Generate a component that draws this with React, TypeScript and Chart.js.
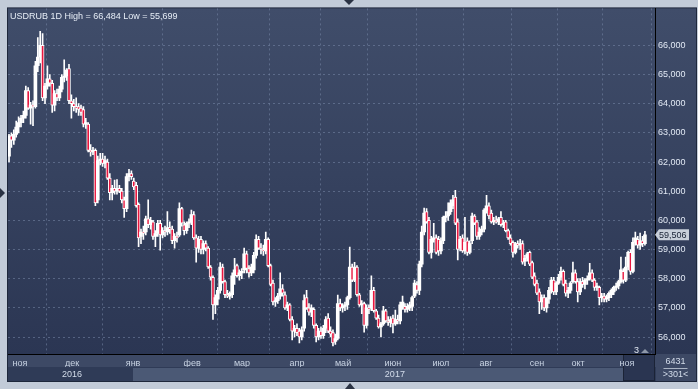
import React, { useEffect, useRef } from 'react';
import { Chart, registerables } from 'chart.js';

Chart.register(...registerables);

const opens = [
  62.2, 62.9, 62.75, 62.95, 63.2, 63.35, 63.5, 63.6, 64.45, 63.85,
  63.95, 63.9, 65.3, 65.6, 66.0, 64.2, 64.6, 64.85, 64.7, 63.95,
  64.35, 64.2, 64.5, 64.9, 64.95, 65.2, 64.1, 64.0, 63.9, 63.9,
  63.85, 63.8, 63.3, 63.3, 62.4, 62.35, 62.4, 60.7, 62.05, 62.1,
  61.95, 62.0, 61.45, 60.95, 61.1, 61.0, 61.1, 61.0, 60.7, 60.4,
  61.5, 61.6, 61.35, 61.2, 60.55, 59.45, 59.6, 59.6, 60.05, 59.85,
  59.95, 59.45, 59.55, 59.9, 59.5, 59.65, 59.6, 59.75, 59.7, 59.3,
  59.45, 59.5, 60.4, 59.85, 59.65, 59.9, 59.95, 60.2, 59.4, 59.05,
  59.35, 59.0, 59.2, 59.05, 58.4, 58.05, 57.1, 57.3, 57.6, 58.4,
  57.9, 57.45, 57.4, 57.45, 58.1, 58.45, 58.1, 58.2, 58.3, 58.85,
  58.35, 58.2, 58.3, 58.8, 59.35, 59.05, 59.0, 58.95, 59.35, 58.45,
  57.85, 57.2, 57.25, 57.4, 57.65, 57.45, 57.0, 57.1, 56.6, 56.2,
  56.3, 56.2, 56.0, 56.3, 57.35, 57.0, 56.85, 56.95, 56.4, 56.0,
  56.2, 56.05, 56.3, 56.65, 56.2, 56.15, 55.85, 55.95, 57.15, 57.0,
  57.05, 57.1, 57.35, 58.4, 57.95, 58.4, 57.45, 57.1, 57.15, 56.4,
  57.0, 57.0, 57.6, 56.9, 56.65, 56.35, 56.45, 56.9, 56.55, 56.5,
  56.65, 56.45, 56.6, 56.55, 57.05, 57.05, 56.95, 57.0, 57.05, 57.4,
  57.8, 57.6, 58.5, 59.6, 60.3, 60.0, 58.9, 59.35, 59.4, 59.35,
  58.95, 59.3, 60.1, 60.15, 60.3, 60.5, 60.8, 59.95, 59.05, 59.4,
  58.95, 59.3, 58.9, 59.3, 60.15, 59.95, 59.45, 59.6, 59.7, 60.35,
  60.5, 60.25, 59.95, 60.0, 59.95, 60.1, 59.85, 59.95, 59.65, 59.4,
  59.25, 58.9, 59.2, 59.15, 59.2, 58.6, 58.7, 58.9, 58.55, 58.1,
  57.85, 57.55, 57.2, 57.35, 57.0, 57.3, 57.6, 57.95, 57.55, 57.85,
  58.05, 58.25, 57.85, 57.5, 57.6, 57.9, 58.2, 57.9, 57.55, 57.9,
  57.8, 57.95, 58.0, 58.2, 57.95, 57.7, 57.7, 57.35, 57.4, 57.3,
  57.35, 57.45, 57.55, 57.7, 57.75, 57.9, 58.25, 57.95, 58.4, 58.9,
  58.25, 59.25, 59.35, 59.15, 59.3, 59.2,
];

const highs = [
  62.95, 63.0, 63.1, 63.4, 63.55, 63.6, 63.75, 64.6, 64.55, 64.05,
  64.1, 65.45, 66.27, 66.484, 66.4, 64.7, 65.3, 65.0, 64.8, 64.45,
  64.5, 64.6, 65.0, 65.5, 65.2, 65.35, 64.3, 64.15, 64.2, 64.0,
  63.95, 63.9, 63.5, 63.35, 62.6, 62.5, 62.45, 62.2, 62.3, 62.3,
  62.2, 62.1, 61.6, 61.2, 61.38, 61.4, 61.2, 61.1, 60.8, 61.6,
  61.75, 61.7, 61.45, 61.3, 60.6, 59.7, 59.8, 60.15, 60.7, 60.1,
  60.0, 59.65, 60.0, 60.0, 59.75, 59.8, 60.3, 59.95, 59.8, 59.55,
  59.6, 60.6, 60.45, 59.95, 59.95, 60.05, 60.35, 60.3, 59.5, 59.45,
  59.45, 59.3, 59.3, 59.1, 58.45, 58.1, 57.45, 57.7, 58.55, 58.5,
  57.95, 57.6, 57.55, 58.2, 58.7, 58.5, 58.3, 58.35, 59.05, 58.95,
  58.45, 58.5, 58.9, 59.5, 59.45, 59.2, 59.15, 59.6, 59.4, 58.5,
  57.95, 57.35, 57.5, 58.2, 57.8, 57.55, 57.2, 57.15, 56.7, 56.4,
  56.45, 56.3, 56.35, 57.45, 57.6, 57.15, 57.1, 57.0, 56.45, 56.3,
  56.35, 56.4, 56.7, 56.8, 56.35, 56.25, 56.1, 57.44, 57.3, 57.15,
  57.2, 57.4, 59.08, 58.5, 58.56, 58.45, 57.5, 57.25, 57.2, 57.1,
  57.1, 58.1, 57.7, 56.95, 56.75, 56.5, 57.05, 56.95, 56.7, 56.7,
  56.75, 56.92, 56.75, 57.2, 57.4, 57.15, 57.15, 57.2, 57.4, 57.95,
  57.9, 58.6, 59.8, 60.42, 60.4, 60.1, 59.45, 59.9, 59.5, 59.45,
  59.4, 60.15, 60.3, 60.6, 60.7, 60.86, 61.03, 60.05, 59.45, 59.5,
  60.1, 59.4, 59.3, 60.25, 60.2, 60.0, 59.75, 59.8, 60.4, 60.86,
  60.6, 60.35, 60.1, 60.15, 60.1, 60.3, 60.0, 60.0, 59.7, 59.5,
  59.3, 59.25, 59.3, 59.35, 59.3, 58.8, 58.9, 58.95, 58.6, 58.2,
  57.95, 57.65, 57.45, 57.45, 57.35, 57.7, 58.05, 58.05, 57.9, 58.15,
  58.4, 58.3, 57.95, 57.7, 57.9, 58.57, 58.3, 58.0, 58.0, 58.05,
  58.0, 58.1, 58.53, 58.3, 58.0, 57.85, 57.75, 57.5, 57.5, 57.45,
  57.55, 57.65, 57.75, 57.85, 57.95, 58.74, 58.35, 58.74, 58.95, 59.0,
  59.4, 59.6, 59.45, 59.56, 59.45, 59.62,
];

const lows = [
  62.0, 62.5, 62.6, 62.85, 63.0, 63.2, 63.35, 63.5, 63.8, 63.3,
  63.25, 63.85, 65.1, 65.4, 64.1, 64.0, 64.5, 64.6, 63.7, 63.75,
  64.1, 64.1, 64.4, 64.75, 64.8, 64.0, 63.5, 63.75, 63.7, 63.6,
  63.6, 63.2, 63.15, 62.35, 62.2, 62.25, 60.5, 60.6, 61.9, 61.85,
  61.8, 61.4, 60.7, 60.7, 60.9, 60.9, 60.95, 60.6, 60.1, 60.3,
  61.35, 61.4, 61.05, 60.45, 59.1, 59.2, 59.35, 59.5, 59.75, 59.7,
  59.35, 59.1, 59.45, 58.98, 59.4, 59.45, 59.5, 59.55, 59.2, 59.05,
  59.25, 59.45, 59.8, 59.5, 59.55, 59.75, 59.85, 59.35, 58.57, 58.9,
  58.85, 58.85, 58.95, 58.35, 57.95, 56.6, 56.8, 57.1, 57.5, 57.85,
  57.35, 57.35, 57.3, 57.35, 57.8, 58.05, 57.95, 58.0, 58.2, 58.2,
  58.05, 58.1, 58.2, 58.7, 59.0, 58.85, 58.8, 58.85, 58.4, 57.75,
  57.1, 57.05, 57.15, 57.3, 57.4, 56.95, 56.9, 56.55, 55.9, 56.0,
  56.05, 55.8, 55.9, 56.2, 56.95, 56.75, 56.7, 56.3, 55.83, 55.9,
  55.95, 55.95, 56.15, 56.15, 56.0, 55.699, 55.75, 55.9, 56.9, 56.85,
  56.9, 56.95, 57.3, 57.9, 57.9, 57.4, 57.05, 56.8, 56.17, 56.3,
  56.8, 56.9, 56.85, 56.6, 56.3, 56.0, 56.4, 56.5, 56.4, 56.35,
  56.14, 56.4, 56.45, 56.45, 56.95, 56.85, 56.85, 56.9, 56.9, 57.35,
  57.5, 57.45, 58.4, 59.5, 59.9, 58.85, 58.7, 59.25, 58.85, 58.8,
  58.85, 59.2, 59.95, 60.0, 60.2, 60.4, 59.85, 58.64, 58.95, 58.9,
  58.85, 58.8, 58.85, 59.2, 59.85, 59.35, 59.35, 59.5, 59.6, 60.25,
  60.05, 59.9, 59.85, 59.9, 59.85, 59.8, 59.75, 59.6, 59.35, 59.15,
  58.74, 58.85, 59.05, 59.0, 58.5, 58.45, 58.6, 58.45, 58.0, 57.75,
  57.45, 56.8, 56.95, 56.9, 56.85, 57.15, 57.5, 57.45, 57.45, 57.8,
  57.95, 57.75, 57.4, 57.35, 57.5, 57.85, 57.85, 57.2, 57.45, 57.7,
  57.65, 57.8, 57.95, 57.9, 57.6, 57.6, 57.1, 57.2, 57.2, 57.2,
  57.25, 57.35, 57.45, 57.6, 57.65, 57.85, 57.85, 57.9, 58.3, 58.15,
  58.2, 59.15, 59.05, 59.0, 59.1, 59.15,
];

const closes = [
  62.9, 62.75, 62.95, 63.2, 63.35, 63.5, 63.6, 64.45, 63.85, 63.95,
  63.9, 65.3, 65.6, 66.0, 64.2, 64.6, 64.85, 64.7, 63.95, 64.35,
  64.2, 64.5, 64.9, 64.95, 65.15, 64.1, 64.0, 63.9, 63.85, 63.8,
  63.7, 63.3, 63.35, 62.4, 62.35, 62.4, 60.6, 62.05, 62.1, 61.95,
  62.05, 61.45, 60.95, 61.1, 61.0, 61.1, 61.0, 60.7, 60.4, 61.5,
  61.6, 61.5, 61.15, 60.5, 59.4, 59.6, 59.55, 60.05, 59.85, 60.0,
  59.45, 59.55, 59.9, 59.5, 59.65, 59.6, 59.75, 59.7, 59.3, 59.45,
  59.4, 60.4, 59.9, 59.65, 59.9, 59.95, 60.2, 59.4, 59.05, 59.35,
  59.0, 59.2, 59.05, 58.4, 58.05, 57.1, 57.35, 57.6, 58.4, 57.9,
  57.45, 57.4, 57.5, 58.1, 58.3, 58.1, 58.2, 58.25, 58.85, 58.35,
  58.2, 58.4, 58.8, 59.35, 59.05, 59.0, 58.95, 59.35, 58.45, 57.8,
  57.2, 57.25, 57.4, 57.65, 57.5, 57.0, 57.1, 56.6, 56.2, 56.3,
  56.15, 56.0, 56.25, 57.25, 57.0, 56.85, 57.0, 56.4, 56.0, 56.2,
  56.05, 56.3, 56.6, 56.2, 56.1, 55.8, 55.95, 57.15, 57.0, 57.05,
  57.1, 57.35, 58.4, 57.95, 58.4, 57.45, 57.1, 57.15, 56.4, 57.0,
  56.95, 57.6, 56.9, 56.65, 56.35, 56.45, 56.9, 56.55, 56.5, 56.6,
  56.45, 56.6, 56.55, 57.1, 57.2, 56.95, 57.05, 57.1, 57.35, 57.85,
  57.6, 58.5, 59.6, 60.25, 59.95, 58.9, 59.35, 59.4, 58.9, 58.95,
  59.3, 60.1, 60.15, 60.3, 60.6, 60.7, 59.9, 59.0, 59.35, 58.95,
  59.25, 58.9, 59.2, 60.15, 59.9, 59.45, 59.6, 59.7, 60.35, 60.5,
  60.15, 59.95, 60.0, 59.95, 60.05, 59.85, 59.9, 59.65, 59.4, 59.2,
  58.9, 59.2, 59.15, 59.2, 58.57, 58.7, 58.85, 58.5, 58.05, 57.8,
  57.5, 57.2, 57.35, 57.0, 57.3, 57.6, 57.95, 57.55, 57.85, 58.05,
  58.25, 57.8, 57.5, 57.6, 57.85, 58.2, 57.9, 57.55, 57.9, 57.8,
  57.95, 58.0, 58.2, 57.95, 57.7, 57.75, 57.35, 57.4, 57.3, 57.35,
  57.5, 57.6, 57.7, 57.75, 57.9, 58.3, 57.95, 58.4, 58.9, 58.25,
  59.25, 59.4, 59.15, 59.3, 59.2, 59.506,
];

const monthTicks = [4.6, 26.3, 51.7, 76.3, 97.1, 120, 139.2, 160, 180, 198.8, 220, 237.1, 257.5];
const monthLabels = ['ноя', 'дек', 'янв', 'фев', 'мар', 'апр', 'май', 'июн', 'июл', 'авг', 'сен', 'окт', 'ноя'];
const yearTicks = [26.3, 160.8];
const yearLabels = ['2016', '2017'];
const priceTicks = [56, 57, 58, 59, 60, 61, 62, 63, 64, 65, 66];
const symbol = 'USDRUB 1D';
const barCountText = '6431';
const windowText = '>301<';
const markerText = '3';

const fmt = (v: number) => v.toFixed(3).replace('.', ',');
const FONT = "'Liberation Sans', Arial, sans-serif";
const UP = '#ffffff';
const DOWN = '#e8173f';
const GRID = 'rgba(120,136,168,0.55)';

export default function App() {
  const ref = useRef<HTMLCanvasElement | null>(null);

  useEffect(() => {
    document.body.style.margin = '0';
    const canvas = ref.current;
    if (!canvas) return;
    const n = Math.min(opens.length, highs.length, lows.length, closes.length);
    const idx = Array.from({ length: n }, (_, i) => i);
    const isDown = (i: number) => closes[i] < opens[i];
    const hi = Math.max(...highs.slice(0, n));
    const lo = Math.min(...lows.slice(0, n));
    const title = `${symbol} High = ${fmt(hi)} Low = ${fmt(lo)}`;
    const last = closes[n - 1];

    const bgPlugin = {
      id: 'bg',
      beforeDraw(chart: any) {
        const { ctx, chartArea: a } = chart;
        const W = chart.width;
        const H = chart.height;
        ctx.save();
        ctx.fillStyle = '#c2cbd8';
        ctx.fillRect(0, 0, W, H);
        ctx.fillStyle = '#2a3243';
        ctx.beginPath(); ctx.moveTo(344, 0); ctx.lineTo(354, 0); ctx.lineTo(349, 5); ctx.closePath(); ctx.fill();
        ctx.beginPath(); ctx.moveTo(0, 188); ctx.lineTo(0, 198); ctx.lineTo(5, 193); ctx.closePath(); ctx.fill();
        ctx.beginPath(); ctx.moveTo(345, H); ctx.lineTo(355, H); ctx.lineTo(350, H - 6); ctx.closePath(); ctx.fill();
        const right = W - 2;
        const bottom = a.bottom + 27;
        ctx.fillStyle = '#1e273b';
        ctx.fillRect(a.left - 1, a.top - 1, right - a.left + 2, bottom - a.top + 2);
        const g = ctx.createLinearGradient(0, a.top, 0, a.bottom);
        g.addColorStop(0, '#404d6a');
        g.addColorStop(1, '#2b3653');
        ctx.fillStyle = g;
        ctx.fillRect(a.left, a.top, right - a.left, a.bottom - a.top);
        ctx.fillStyle = '#3d4965';
        ctx.fillRect(a.left, a.bottom, right - a.left, 13);
        ctx.fillStyle = '#2f3b57';
        ctx.fillRect(a.left, a.bottom + 13, right - a.left, 14);
        ctx.fillStyle = '#4b5975';
        ctx.fillRect(133, a.bottom + 14, 490, 13);
        ctx.fillStyle = '#2a3551';
        ctx.fillRect(623, a.bottom + 1, a.right - 623, 26);
        ctx.strokeStyle = '#1b2336';
        ctx.lineWidth = 1;
        ctx.strokeRect(623.5, a.bottom + 0.5, a.right - 624, 26);
        ctx.fillStyle = '#3d4965';
        ctx.fillRect(a.right + 1, a.bottom + 1, right - a.right - 1, 26);
        ctx.restore();
      },
      afterDraw(chart: any) {
        const { ctx, chartArea: a } = chart;
        ctx.save();
        ctx.font = `9px ${FONT}`;
        ctx.textBaseline = 'alphabetic';
        ctx.textAlign = 'left';
        ctx.fillStyle = '#e6edf6';
        ctx.fillText(title, 10, 18.5);
        // price tag
        const y = chart.scales.y.getPixelForValue(last);
        ctx.fillStyle = '#c9d0da';
        ctx.beginPath();
        ctx.moveTo(a.right, y);
        ctx.lineTo(a.right + 4, y - 5.5);
        ctx.lineTo(a.right + 34, y - 5.5);
        ctx.lineTo(a.right + 34, y + 5.5);
        ctx.lineTo(a.right + 4, y + 5.5);
        ctx.closePath();
        ctx.fill();
        ctx.fillStyle = '#172033';
        ctx.textBaseline = 'middle';
        ctx.fillText(fmt(last), a.right + 4, y + 0.5);
        // marker
        ctx.fillStyle = '#dfe6f0';
        ctx.textBaseline = 'alphabetic';
        ctx.fillText(markerText, 634, a.bottom - 1);
        ctx.fillStyle = '#8d97a8';
        ctx.beginPath();
        ctx.moveTo(641, a.bottom - 1); ctx.lineTo(649, a.bottom - 1); ctx.lineTo(645, a.bottom - 5);
        ctx.closePath(); ctx.fill();
        // right box
        const cx = (a.right + chart.width - 2) / 2;
        ctx.textAlign = 'center';
        ctx.fillStyle = '#d3dcea';
        ctx.textBaseline = 'middle';
        ctx.fillText(barCountText, cx, a.bottom + 8);
        ctx.fillText(windowText, cx, a.bottom + 21);
        ctx.strokeStyle = '#aab4c4';
        ctx.beginPath();
        ctx.moveTo(cx - 12, a.bottom + 14.5);
        ctx.lineTo(cx + 12, a.bottom + 14.5);
        ctx.stroke();
        ctx.restore();
      },
    };

    const chart = new Chart(canvas, {
      type: 'bar',
      data: {
        datasets: [
          {
            label: 'wick',
            data: idx.map((i) => ({ x: i, y: [lows[i], highs[i]] })) as any,
            backgroundColor: '#ffffff',
            barThickness: 1,
            grouped: false,
            order: 2,
          } as any,
          {
            label: 'body',
            data: idx.map((i) => ({ x: i, y: [opens[i], closes[i]] })) as any,
            backgroundColor: (c: any) => (isDown(c.dataIndex) ? DOWN : UP),
            borderColor: '#ffffff',
            borderWidth: (c: any) => (isDown(c.dataIndex) ? 1 : 0),
            borderSkipped: false,
            barThickness: 3,
            grouped: false,
            order: 1,
          } as any,
        ],
      },
      options: {
        responsive: false,
        devicePixelRatio: 1,
        animation: false,
        events: [],
        layout: { padding: { left: 8, top: 8, right: 2, bottom: 8 } },
        plugins: { legend: { display: false }, tooltip: { enabled: false }, title: { display: false } },
        scales: {
          x: {
            type: 'linear',
            position: 'bottom',
            weight: 0,
            min: -0.42,
            max: 269.2,
            offset: false,
            afterBuildTicks: (s: any) => { s.ticks = monthTicks.map((v) => ({ value: v })); },
            afterFit: (s: any) => { s.height = 13; },
            ticks: {
              autoSkip: false,
              maxRotation: 0,
              padding: 4,
              color: '#c7d2e2',
              font: { family: FONT, size: 9 },
              callback: (_v: any, i: number) => monthLabels[i] ?? '',
            },
            grid: { color: GRID, drawTicks: false, lineWidth: 1 },
            border: { display: true, color: '#000000', width: 1, dash: [2, 3] },
          },
          x2: {
            type: 'linear',
            position: 'bottom',
            weight: 1,
            min: -0.42,
            max: 269.2,
            offset: false,
            afterBuildTicks: (s: any) => { s.ticks = yearTicks.map((v) => ({ value: v })); },
            afterFit: (s: any) => { s.height = 14; },
            ticks: {
              autoSkip: false,
              maxRotation: 0,
              padding: 2,
              color: '#d3dcea',
              font: { family: FONT, size: 9 },
              callback: (_v: any, i: number) => yearLabels[i] ?? '',
            },
            grid: { display: false, drawTicks: false },
            border: { display: false },
          },
          y: {
            type: 'linear',
            position: 'right',
            min: 55.418,
            max: 67.267,
            afterBuildTicks: (s: any) => { s.ticks = priceTicks.map((v) => ({ value: v })); },
            afterFit: (s: any) => { s.width = 41; },
            ticks: {
              padding: 3,
              color: '#e2e9f4',
              font: { family: FONT, size: 9 },
              callback: (v: any) => fmt(Number(v)),
            },
            grid: { color: GRID, drawTicks: false, lineWidth: 1 },
            border: { display: true, color: '#000000', width: 1, dash: [2, 3] },
          },
        },
      } as any,
      plugins: [bgPlugin as any],
    });

    return () => chart.destroy();
  }, []);

  return (
    <div style={{ position: 'absolute', left: 0, top: 0, width: 698, height: 389 }}>
      <canvas ref={ref} width={698} height={389} style={{ display: 'block', width: 698, height: 389 }} />
    </div>
  );
}
